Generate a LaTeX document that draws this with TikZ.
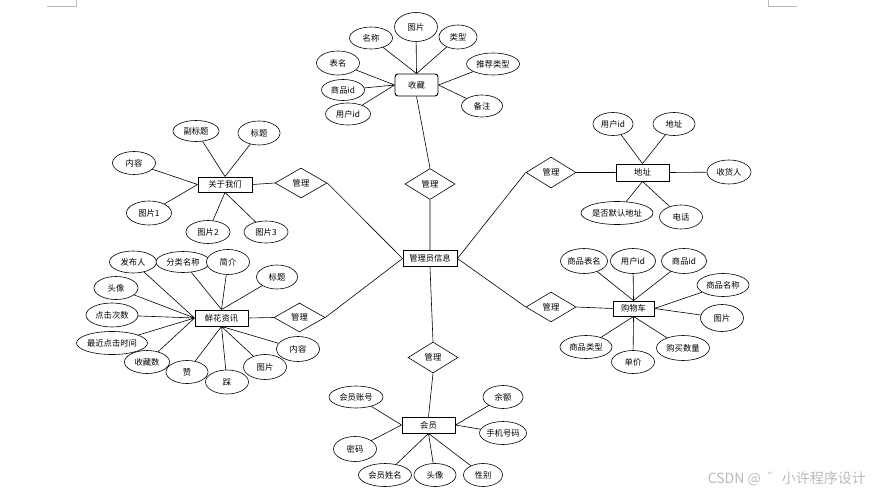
\documentclass[tikz,border=0pt]{standalone}
\usepackage{fontspec}
\setmainfont{Noto Sans CJK SC}
\usetikzlibrary{shapes.geometric}
\tikzset{
  x=1pt, y=-1pt,
  lbl/.style={font=\fontsize{8.3}{9}\selectfont},
  attr/.style={ellipse, draw, fill=white, line width=0.6pt, inner sep=0pt, minimum width=43pt, minimum height=23pt, lbl},
  ent/.style={rectangle, draw, fill=white, line width=0.9pt, inner sep=0pt, minimum width=53pt, minimum height=16pt, lbl},
  rel/.style={diamond, draw, fill=white, line width=0.6pt, inner sep=0pt, minimum width=50pt, minimum height=31pt, lbl},
  conn/.style={draw, line width=0.6pt},
  cornermark/.style={draw=gray!55, line width=0.6pt}
}
\begin{document}
\begin{tikzpicture}
\useasboundingbox (0,0) rectangle (880,495);
% page corner marks
\draw[cornermark] (47,6) -- (76,6) -- (76,0);
\draw[cornermark] (768,0) -- (768,6) -- (797,6);

% centre
\node[ent, minimum width=54pt] (adm) at (430,258.5) {管理员信息};

% ---- 收藏 ----
\node[rel] (r1) at (430,184) {管理};
\node[ent, rounded corners=3pt, minimum width=43pt, minimum height=22pt] (sc) at (416.5,85) {收藏};
\node[attr, minimum height=29pt] (sc1) at (416,27) {图片};
\node[attr, minimum height=22pt] (sc2) at (371,38) {名称};
\node[attr, minimum width=38pt, minimum height=24pt] (sc3) at (458,37) {类型};
\node[attr, minimum width=53pt, minimum height=22pt] (sc4) at (493,64) {推荐类型};
\node[attr, minimum width=41pt, minimum height=22pt] (sc5) at (482,106) {备注};
\node[attr, minimum height=24pt] (sc6) at (338,63) {表名};
\node[attr, minimum height=21pt] (sc7) at (343,90) {商品id};
\node[attr, minimum width=45pt, minimum height=22pt] (sc8) at (348,114) {用户id};

% ---- 关于我们 ----
\node[ent, minimum width=54pt, minimum height=15pt] (gy) at (225,184.5) {关于我们};
\node[rel, minimum width=52pt, minimum height=30pt] (r2) at (301,183) {管理};
\node[attr, minimum width=46pt, minimum height=21pt] (gy1) at (196,131) {副标题};
\node[attr, minimum width=42pt, minimum height=24pt] (gy2) at (259,133) {标题};
\node[attr] (gy3) at (134,163) {内容};
\node[attr, minimum width=45pt, minimum height=24pt] (gy4) at (149,213) {图片1};
\node[attr, minimum width=44pt] (gy5) at (208,232) {图片2};
\node[attr, minimum width=44pt, minimum height=22pt] (gy6) at (266,232) {图片3};

% ---- 鲜花资讯 ----
\node[ent] (xh) at (221.5,318) {鲜花资讯};
\node[rel, minimum width=51pt, minimum height=29pt] (r3) at (299.5,317.5) {管理};
\node[attr, minimum width=47pt, minimum height=22pt] (xh1) at (133,262) {发布人};
\node[attr, minimum width=54pt, minimum height=21pt] (xh2) at (183,262) {分类名称};
\node[attr, minimum height=25pt] (xh3) at (228,262) {简介};
\node[attr, minimum width=41pt, minimum height=24pt] (xh4) at (277,277) {标题};
\node[attr, minimum width=44pt] (xh5) at (116,288) {头像};
\node[attr, minimum width=52pt, minimum height=24pt] (xh6) at (112,315) {点击次数};
\node[attr, minimum width=71pt] (xh7) at (112,343) {最近点击时间};
\node[attr, minimum width=45pt] (xh8) at (147,362) {收藏数};
\node[attr, minimum width=42pt] (xh9) at (187,372) {赞};
\node[attr, minimum height=24pt] (xh10) at (227,382) {踩};
\node[attr, minimum height=25pt] (xh11) at (265,367) {图片};
\node[attr, minimum height=25pt] (xh12) at (298,349) {内容};

% ---- 会员 ----
\node[rel] (r4) at (433,357.5) {管理};
\node[ent] (hy) at (428.5,425) {会员};
\node[attr, minimum width=54pt, minimum height=22pt] (hy1) at (356,397) {会员账号};
\node[attr, minimum width=40pt] (hy2) at (503,397) {余额};
\node[attr, minimum width=44pt] (hy3) at (503,433) {手机号码};
\node[attr, minimum height=25pt] (hy4) at (355,449) {密码};
\node[attr, minimum width=53pt] (hy5) at (385,475) {会员姓名};
\node[attr, minimum width=42pt] (hy6) at (435,475) {头像};
\node[attr, minimum width=39pt] (hy7) at (483,475) {性别};

% ---- 地址 ----
\node[rel] (r5) at (551,172.5) {管理};
\node[ent, minimum height=17pt] (dz) at (642.5,172.5) {地址};
\node[attr, minimum width=40pt] (dz1) at (613,124) {用户id};
\node[attr, minimum width=42pt] (dz2) at (674,124) {地址};
\node[attr, minimum width=44pt, minimum height=24pt] (dz3) at (729,172) {收货人};
\node[attr, minimum width=72pt] (dz4) at (617,213) {是否默认地址};
\node[attr, minimum height=24pt] (dz5) at (681,217) {电话};

% ---- 购物车 ----
\node[rel, minimum height=30pt] (r6) at (551,307) {管理};
\node[ent, minimum width=41pt, minimum height=15pt] (gw) at (633.5,308.5) {购物车};
\node[attr, minimum width=47pt, minimum height=25pt] (gw1) at (584,261) {商品表名};
\node[attr, minimum width=45pt, minimum height=25pt] (gw2) at (633,261) {用户id};
\node[attr, minimum width=45pt, minimum height=25pt] (gw3) at (684,261) {商品id};
\node[attr, minimum width=52pt] (gw4) at (723,285) {商品名称};
\node[attr, minimum height=27pt] (gw5) at (722,318) {图片};
\node[attr, minimum width=52pt] (gw6) at (586,347) {商品类型};
\node[attr] (gw7) at (633,362) {单价};
\node[attr, minimum width=53pt, minimum height=25pt] (gw8) at (683,348) {购买数量};

% ---- connectors ----
\path[conn] (sc.south) -- (r1.north) (r1.south) -- (adm.north);
\path[conn] (sc1) -- (sc.north) (sc2) -- (sc.north) (sc3) -- (sc.north)
  (sc4) -- (sc.east) (sc5) -- (sc.east)
  (sc6) -- (sc.west) (sc7) -- (sc.west) (sc8) -- (sc.west);

\path[conn] (gy.east) -- (r2.west) (r2.east) -- (adm.west);
\path[conn] (gy1) -- (gy.north) (gy2) -- (gy.north) (gy3) -- (gy.west)
  (gy4) -- (gy.west) (gy5) -- (gy.south) (gy6) -- (gy.south);

\path[conn] (xh.east) -- (r3.west) (r3.east) -- (adm.west);
\path[conn] (xh1) -- (xh.west) (xh2) -- (xh.north) (xh3) -- (xh.north) (xh4) -- (xh.north)
  (xh5) -- (xh.west) (xh6) -- (xh.west) (xh7) -- (xh.west) (xh8) -- (xh.west)
  (xh9) -- (xh.south) (xh10) -- (xh.south) (xh11) -- (xh.south) (xh12) -- (xh.south);

\path[conn] (adm.south) -- (r4.north) (r4.south) -- (hy.north);
\path[conn] (hy1) -- (hy.west) (hy4) -- (hy.west) (hy2) -- (hy.east) (hy3) -- (hy.east)
  (hy5) -- (hy.south) (hy6) -- (hy.south) (hy7) -- (hy.south);

\path[conn] (adm.east) -- (r5.west) (r5.east) -- (dz.west);
\path[conn] (dz1) -- (dz.north) (dz2) -- (dz.north) (dz3) -- (dz.east)
  (dz4) -- (dz.south) (dz5) -- (dz.south);

\path[conn] (adm.east) -- (r6.west) (r6.east) -- (gw.west);
\path[conn] (gw1) -- (gw.north) (gw2) -- (gw.north) (gw3) -- (gw.north)
  (gw4) -- (gw.east) (gw5) -- (gw.east)
  (gw6) -- (gw.south) (gw7) -- (gw.south) (gw8) -- (gw.south);

% watermark
\node[text=gray!55, font=\fontsize{14}{15}\selectfont, anchor=east, inner sep=0pt] (wm) at (866,479) {CSDN @\enspace ゛小许程序设计};
\end{tikzpicture}
\end{document}
